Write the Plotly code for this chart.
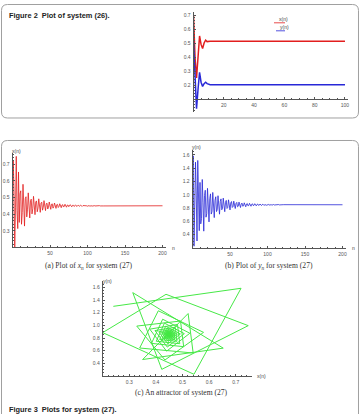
import plotly.graph_objects as go

W, H = 361, 414

# ---------------- data ----------------
# Figure 2 : system (26)
n26 = [0, 1, 2, 3, 4, 5, 6, 7, 8, 9, 10, 11, 100]
x26 = [0.70, 0.40, 0.25, 0.42, 0.55, 0.49, 0.46, 0.50, 0.52, 0.51, 0.512, 0.512, 0.512]
y26 = [0.51, 0.20, 0.03, 0.17, 0.29, 0.22, 0.19, 0.21, 0.22, 0.21, 0.203, 0.202, 0.202]

# Figure 3 : system (27)
n27 = list(range(122)) + [200]
x27 = [0.24, 0.72, 0.543, 0.20, 0.438, 0.747, 0.422, 0.313, 0.653, 0.35,
       0.521, 0.540, 0.339, 0.409, 0.579, 0.434, 0.328,
       0.4925, 0.5043, 0.3833, 0.4254, 0.5276, 0.4401, 0.3768,
       0.4811, 0.4897, 0.4013, 0.4320, 0.5067, 0.4428, 0.3965,
       0.4729, 0.4792, 0.4141, 0.4367, 0.4918, 0.4447, 0.4106,
       0.4669, 0.4716, 0.4235, 0.4402, 0.4808, 0.4461, 0.4209,
       0.4624, 0.4658, 0.4306, 0.4428, 0.4726, 0.4471, 0.4287,
       0.4591, 0.4616, 0.4357, 0.4447, 0.4666, 0.4479, 0.4343,
       0.4566, 0.4585, 0.4396, 0.4461, 0.4621, 0.4485, 0.4385,
       0.4549, 0.4563, 0.4423, 0.4472, 0.4590, 0.4489, 0.4415,
       0.4536, 0.4546, 0.4444, 0.4479, 0.4566, 0.4492, 0.4438,
       0.4526, 0.4533, 0.4459, 0.4485, 0.4548, 0.4494, 0.4455,
       0.4519, 0.4524, 0.4470, 0.4489, 0.4535, 0.4496, 0.4467,
       0.4514, 0.4518, 0.4478, 0.4492, 0.4526, 0.4497, 0.4476,
       0.4510, 0.4513, 0.4484, 0.4494, 0.4519, 0.4498, 0.4482,
       0.4508, 0.4510, 0.4488, 0.4496, 0.4514, 0.4498, 0.4487,
       0.4505, 0.4507, 0.4491, 0.4497, 0.4510, 0.4499, 0.4491,
       0.45]
y27 = [1.30, 1.585, 0.227, 0.885, 1.49, 0.995, 0.305, 1.516, 0.64, 0.46,
       1.186, 0.563, 0.642, 1.230, 0.889, 0.453, 0.988,
       1.0681, 0.6633, 0.7151, 1.0967, 0.8752, 0.5921, 0.9394,
       1.0136, 0.7100, 0.7488, 1.0351, 0.8689, 0.6566, 0.9171,
       0.9700, 0.7473, 0.7758, 0.9857, 0.8639, 0.7081, 0.8992,
       0.9381, 0.7746, 0.7955, 0.9496, 0.8602, 0.7458, 0.8861,
       0.9154, 0.7940, 0.8095, 0.9240, 0.8576, 0.7726, 0.8768,
       0.8978, 0.8091, 0.8204, 0.9041, 0.8555, 0.7935, 0.8696,
       0.8852, 0.8198, 0.8282, 0.8899, 0.8541, 0.8083, 0.8644,
       0.8760, 0.8277, 0.8339, 0.8794, 0.8530, 0.8192, 0.8607,
       0.8689, 0.8338, 0.8383, 0.8714, 0.8522, 0.8277, 0.8577,
       0.8638, 0.8382, 0.8414, 0.8657, 0.8516, 0.8336, 0.8557,
       0.8601, 0.8414, 0.8438, 0.8614, 0.8512, 0.8381, 0.8541,
       0.8574, 0.8437, 0.8454, 0.8584, 0.8509, 0.8413, 0.8530,
       0.8555, 0.8453, 0.8466, 0.8562, 0.8506, 0.8436, 0.8522,
       0.8540, 0.8466, 0.8475, 0.8546, 0.8505, 0.8452, 0.8517,
       0.8529, 0.8475, 0.8482, 0.8533, 0.8503, 0.8465, 0.8512,
       0.85]

# tick labels
fig2_xticks = [20, 40, 60, 80, 100]
fig2_yticks = [0.2, 0.3, 0.4, 0.5, 0.6, 0.7]
a_xticks = [50, 100, 150, 200]
a_yticks = [0.3, 0.4, 0.5, 0.6, 0.7]
b_xticks = [50, 100, 150, 200]
b_yticks = [0.4, 0.6, 0.8, 1.0, 1.2, 1.4, 1.6]
c_xticks = [0.3, 0.4, 0.5, 0.6, 0.7]
c_yticks = [0.4, 0.6, 0.8, 1.0, 1.2, 1.4, 1.6]


def px(x):
    return x / W


def py(y):
    return 1 - y / H


RED = "rgb(226,30,30)"
BLUE = "rgb(40,40,215)"
GREEN = "rgb(70,232,70)"
AX = "#555555"
TICKFONT = dict(family="Liberation Sans", size=5, color="#555555")

fig = go.Figure()

fig.add_trace(go.Scatter(x=n26, y=x26, mode="lines", line=dict(color=RED, width=1.5),
                         xaxis="x", yaxis="y"))
fig.add_trace(go.Scatter(x=n26, y=y26, mode="lines", line=dict(color=BLUE, width=1.5),
                         xaxis="x", yaxis="y"))
fig.add_trace(go.Scatter(x=n27, y=x27, mode="lines", line=dict(color=RED, width=0.8),
                         xaxis="x2", yaxis="y2"))
fig.add_trace(go.Scatter(x=n27, y=y27, mode="lines", line=dict(color=BLUE, width=0.8),
                         xaxis="x3", yaxis="y3"))
fig.add_trace(go.Scatter(x=x27, y=y27, mode="lines", line=dict(color=GREEN, width=1.0),
                         xaxis="x4", yaxis="y4"))


def axis(domain, rng, tickvals, fmt, minor_dtick, minor_tick0=0, **kw):
    d = dict(domain=domain, range=rng, tickmode="array", tickvals=tickvals,
             ticktext=[fmt.format(v) for v in tickvals],
             showline=True, linecolor=AX, linewidth=0.8, showgrid=False, zeroline=False,
             ticks="inside", ticklen=2.2, tickwidth=0.6, tickcolor=AX,
             tickfont=TICKFONT,
             minor=dict(ticks="inside", ticklen=1.2, tickwidth=0.5, tickcolor=AX,
                        tickmode="linear", tick0=minor_tick0, dtick=minor_dtick,
                        showgrid=False))
    d.update(kw)
    return d


layout = dict(
    width=W, height=H, margin=dict(l=0, r=0, t=0, b=0),
    paper_bgcolor="white", plot_bgcolor="rgba(0,0,0,0)", showlegend=False,
    xaxis=axis([px(193.5), px(348)], [0, 102], fig2_xticks, "{:d}", 5,
               anchor="free", position=py(99), ticklabelstandoff=1),
    yaxis=axis([py(111.6), py(12.2)], [0.01, 0.72], fig2_yticks, "{:.1f}", 0.02,
               anchor="x", ticklabelstandoff=1),
    xaxis2=axis([px(12.5), px(165.5)], [0, 204], a_xticks, "{:d}", 10, anchor="y2",
                ticklabelstandoff=1),
    yaxis2=axis([py(247.4), py(152.5)], [0.2, 0.77], a_yticks, "{:.1f}", 0.02, anchor="x2",
                ticklabelstandoff=1),
    xaxis3=axis([px(192.5), px(345.5)], [0, 204], b_xticks, "{:d}", 10, anchor="y3",
                ticklabelstandoff=1),
    yaxis3=axis([py(248), py(150.2)], [0.2, 1.67], b_yticks, "{:.1f}", 0.05, anchor="x3",
                ticklabelstandoff=1),
    xaxis4=axis([px(102.7), px(251.7)], [0.2, 0.76], c_xticks, "{:.1f}", 0.02, anchor="y4",
                ticklabelstandoff=1),
    yaxis4=axis([py(376), py(281)], [0.2, 1.7], c_yticks, "{:.1f}", 0.05, anchor="x4",
                ticklabelstandoff=1),
)
fig.update_layout(**layout)


def rounded_box(x0, y0, x1, y1, r):
    p = lambda x, y: f"{px(x):.5f},{py(y):.5f}"
    return (f"M {p(x0 + r, y0)} L {p(x1 - r, y0)} Q {p(x1, y0)} {p(x1, y0 + r)} "
            f"L {p(x1, y1 - r)} Q {p(x1, y1)} {p(x1 - r, y1)} "
            f"L {p(x0 + r, y1)} Q {p(x0, y1)} {p(x0, y1 - r)} "
            f"L {p(x0, y0 + r)} Q {p(x0, y0)} {p(x0 + r, y0)} Z")


shapes = [
    dict(type="path", xref="paper", yref="paper", path=rounded_box(1.5, 4.5, 358.5, 118, 6),
         line=dict(color="#a0a0a0", width=1)),
    dict(type="path", xref="paper", yref="paper", path=rounded_box(1.5, 140.5, 358.5, 440, 6),
         line=dict(color="#a0a0a0", width=1)),
    dict(type="line", xref="paper", yref="paper", x0=px(274), x1=px(285), y0=py(22.8), y1=py(22.8),
         line=dict(color=RED, width=0.8)),
    dict(type="line", xref="paper", yref="paper", x0=px(276), x1=px(285), y0=py(30.8), y1=py(30.8),
         line=dict(color=BLUE, width=0.8)),
]
fig.update_layout(shapes=shapes)

NB = "\u00a0"
small = dict(family="Liberation Sans", size=5, color="#444444")
serif = dict(family="Liberation Serif", size=7.6, color="#333333")
bold = dict(family="Liberation Sans", size=7.4, color="#222222")


def ann(text, x, y, font, xanchor="center", yanchor="middle"):
    return dict(text=text, x=px(x), y=py(y), xref="paper", yref="paper", showarrow=False,
                font=font, xanchor=xanchor, yanchor=yanchor)


annotations = [
    ann(f"<b>Figure 2{NB}{NB}Plot of system (26).</b>", 7, 15, bold, "left"),
    ann("x(n)", 276.5, 19.5, small, "left"),
    ann("y(n)", 277.5, 27, small, "left"),
    ann("x(n)", 10, 150.5, small, "left"),
    ann("n", 170, 248, small, "left"),
    ann("y(n)", 190, 146.5, small, "left"),
    ann("n", 350, 248, small, "left"),
    ann("y(n)", 101, 280.5, small, "left"),
    ann("x(n)", 255, 376, small, "left"),
    ann("(a) Plot of <i>x</i><sub><i>n</i></sub> for system (27)", 89, 265.7, serif),
    ann("(b) Plot of <i>y</i><sub><i>n</i></sub> for system (27)", 269, 265.7, serif),
    ann("(c) An attractor of system (27)", 182, 386, serif, "center", "top"),
    ann(f"<b>Figure 3{NB}{NB}Plots for system (27).</b>", 7, 409.5, bold, "left"),
]
fig.update_layout(annotations=annotations)

fig.write_html("out.html")
